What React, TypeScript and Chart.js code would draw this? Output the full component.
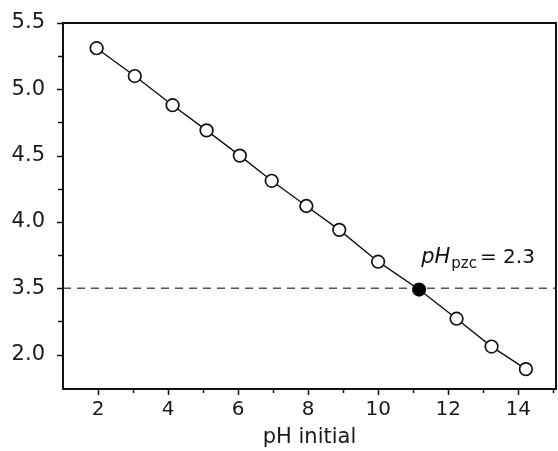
import React, { useEffect, useRef } from "react";
import { Chart, registerables } from "chart.js";

Chart.register(...registerables);

const pHInitial = [1.96, 3.05, 4.13, 5.1, 6.05, 6.96, 7.95, 8.89, 10.0, 11.17, 12.24, 13.24, 14.22];
const pHFinal = [5.31, 5.1, 4.88, 4.69, 4.5, 4.31, 4.12, 3.94, 3.7, 3.49, 3.27, 3.06, 2.89];
const filledIndex = 9;

const xTickValues = [2, 4, 6, 8, 10, 12, 14];
const xMinorValues = [3, 5, 7, 9, 11, 13, 15];
const yTickValues = [3.0, 3.5, 4.0, 4.5, 5.0, 5.5];
const yTickLabels = ["2.0", "3.5", "4.0", "4.5", "5.0", "5.5"];
const yMinorValues = [3.25, 3.75, 4.25, 4.75, 5.25];

const pzcLevel = 3.5;
const xMin = 1;
const xMax = 15.08;
const yMin = 2.74;
const yMax = 5.5;

const annotX = 11.23;
const annotY = 3.69;

const FONT = "'DejaVu Sans', 'Liberation Sans', Arial, sans-serif";

const framePlugin = {
  id: "frameTicks",
  afterDraw(chart: any) {
    const ctx = chart.ctx;
    const { left, right, top, bottom } = chart.chartArea;
    const xs = chart.scales.x;
    const ys = chart.scales.y;
    ctx.save();
    ctx.strokeStyle = "#111";
    ctx.lineWidth = 2;
    ctx.beginPath();
    ctx.moveTo(left, top);
    ctx.lineTo(right, top);
    ctx.lineTo(right, bottom);
    ctx.lineTo(left, bottom);
    ctx.closePath();
    ctx.stroke();
    ctx.lineWidth = 1.5;
    ctx.beginPath();
    xTickValues.forEach((v) => {
      const px = Math.round(xs.getPixelForValue(v)) + 0.5;
      ctx.moveTo(px, bottom);
      ctx.lineTo(px, bottom + 6);
    });
    xMinorValues.forEach((v) => {
      const px = Math.round(xs.getPixelForValue(v)) + 0.5;
      ctx.moveTo(px, bottom);
      ctx.lineTo(px, bottom + 4);
    });
    yTickValues.forEach((v) => {
      const py = Math.round(ys.getPixelForValue(v)) + 0.5;
      ctx.moveTo(left, py);
      ctx.lineTo(left - 6, py);
    });
    yMinorValues.forEach((v) => {
      const py = Math.round(ys.getPixelForValue(v)) + 0.5;
      ctx.moveTo(left, py);
      ctx.lineTo(left - 5, py);
    });
    ctx.stroke();

    const ax = xs.getPixelForValue(annotX);
    const ay = ys.getPixelForValue(annotY);
    ctx.fillStyle = "#111";
    ctx.textBaseline = "alphabetic";
    ctx.textAlign = "left";
    ctx.font = `oblique 21px ${FONT}`;
    ctx.fillText("pH", ax, ay);
    let cx = ax + ctx.measureText("pH").width + 1;
    ctx.font = `15px ${FONT}`;
    ctx.fillText("pzc", cx, ay + 5);
    cx += ctx.measureText("pzc").width + 3;
    ctx.font = `20px ${FONT}`;
    ctx.fillText("= 2.3", cx, ay);
    ctx.restore();
  },
};

const zeroPad = (scale: any) => {
  scale.paddingTop = 0;
  scale.paddingBottom = 0;
  scale.paddingLeft = 0;
  scale.paddingRight = 0;
};

export default function App() {
  const canvasRef = useRef<HTMLCanvasElement | null>(null);

  useEffect(() => {
    document.body.style.margin = "0";
    const canvas = canvasRef.current;
    if (!canvas) return;
    const points = pHInitial.map((x, i) => ({ x, y: pHFinal[i] }));
    const chart = new Chart(canvas, {
      type: "scatter",
      data: {
        datasets: [
          {
            data: points,
            showLine: true,
            borderColor: "#111",
            borderWidth: 1.4,
            pointRadius: 6.3,
            pointHoverRadius: 6.3,
            pointBorderWidth: 1.7,
            pointBorderColor: "#111",
            pointBackgroundColor: pHInitial.map((_, i) => (i === filledIndex ? "#000" : "#fff")),
            order: 0,
          } as any,
          {
            data: [
              { x: xMin, y: pzcLevel },
              { x: xMax, y: pzcLevel },
            ],
            showLine: true,
            borderColor: "#555",
            borderWidth: 1.4,
            borderDash: [8, 6],
            pointRadius: 0,
            order: 1,
          } as any,
        ],
      },
      options: {
        responsive: false,
        animation: false,
        events: [],
        layout: { autoPadding: false, padding: { top: 23, right: 2, left: 0, bottom: 0 } },
        plugins: {
          legend: { display: false },
          tooltip: { enabled: false },
        },
        scales: {
          x: {
            type: "linear",
            min: xMin,
            max: xMax,
            afterBuildTicks: (scale: any) => {
              scale.ticks = xTickValues.map((v) => ({ value: v }));
            },
            afterFit: (scale: any) => {
              scale.height = 62;
              zeroPad(scale);
            },
            grid: { display: false, drawTicks: false },
            border: { display: false },
            ticks: {
              padding: 9,
              color: "#1a1a1a",
              font: { family: FONT, size: 20 },
              maxRotation: 0,
              autoSkip: false,
            },
            title: {
              display: true,
              text: "pH initial",
              color: "#1a1a1a",
              font: { family: FONT, size: 21 },
              padding: { top: 0, bottom: 1 },
            },
          },
          y: {
            type: "linear",
            min: yMin,
            max: yMax,
            afterBuildTicks: (scale: any) => {
              scale.ticks = yTickValues.map((v) => ({ value: v }));
            },
            afterFit: (scale: any) => {
              scale.width = 63;
              zeroPad(scale);
            },
            grid: { display: false, drawTicks: false },
            border: { display: false },
            ticks: {
              padding: 18,
              color: "#1a1a1a",
              font: { family: FONT, size: 21 },
              autoSkip: false,
              callback: (_v: any, i: number) => yTickLabels[i],
            },
          },
        },
      },
      plugins: [framePlugin],
    });
    return () => chart.destroy();
  }, []);

  return (
    <div style={{ position: "absolute", left: 0, top: 0, width: 558, height: 451, background: "#fff" }}>
      <canvas ref={canvasRef} width={558} height={451} style={{ display: "block" }} />
    </div>
  );
}
